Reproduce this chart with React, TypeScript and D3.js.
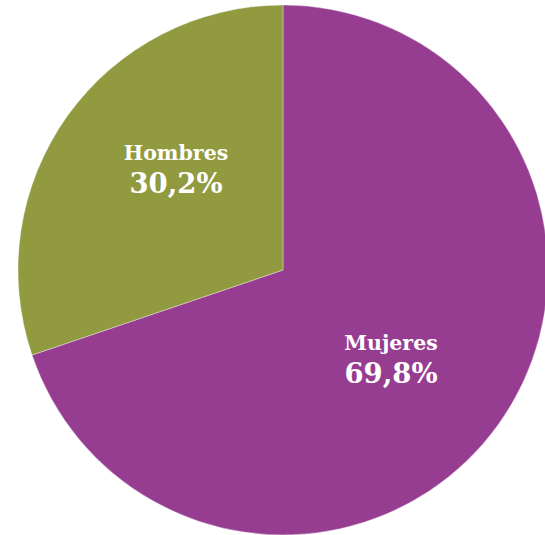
import React from "react";
import * as d3 from "d3";

const categories = ["Mujeres", "Hombres"];
const values = [69.8, 30.2];
const labels = ["69,8%", "30,2%"];
const colors = ["#963D91", "#919A3F"];

const W = 545;
const H = 535;
const cx = 283;
const cy = 270;
const R = 265;

export default function App() {
  const pie = d3.pie<number>().sort(null).value((d) => d);
  const arcs = pie(values);
  const arc = d3.arc<d3.PieArcDatum<number>>().innerRadius(0).outerRadius(R);
  const labelPos = [
    [108, 80],
    [-107, -110],
  ];
  return (
    <svg
      width={W}
      height={H}
      style={{ position: "absolute", left: 0, top: 0 }}
      viewBox={`0 0 ${W} ${H}`}
    >
      <g transform={`translate(${cx},${cy})`}>
        {arcs.map((a, i) => (
          <path
            key={categories[i]}
            d={arc(a) || ""}
            fill={colors[i]}
            stroke="#ffffff"
            strokeWidth={0.6}
            strokeOpacity={0.6}
          />
        ))}
        {arcs.map((a, i) => (
          <g key={"t" + i} transform={`translate(${labelPos[i][0]},${labelPos[i][1]})`}>
            <text
              x={0}
              y={0}
              textAnchor="middle"
              fill="#ffffff"
              fontFamily="'DejaVu Serif', serif"
              fontWeight="bold"
              fontSize={20.5}
            >
              {categories[i]}
            </text>
            <text
              x={0}
              y={33}
              textAnchor="middle"
              fill="#ffffff"
              fontFamily="'DejaVu Serif', serif"
              fontWeight="bold"
              fontSize={27.5}
            >
              {labels[i]}
            </text>
          </g>
        ))}
      </g>
    </svg>
  );
}
